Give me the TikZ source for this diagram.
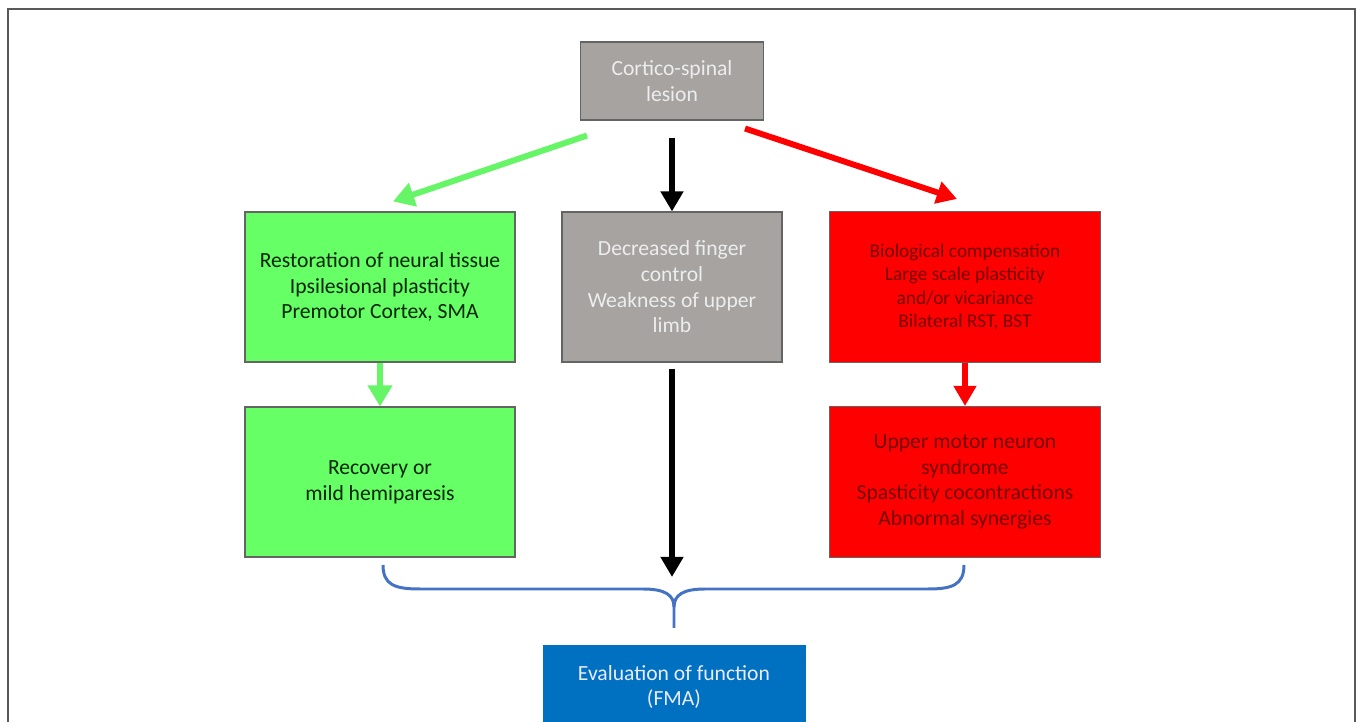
\documentclass[tikz,border=0pt]{standalone}
\usepackage{fontspec}
\setmainfont{Carlito}
\usetikzlibrary{arrows.meta,calc}

\definecolor{boxgrey}{RGB}{166,163,161}
\definecolor{boxgreen}{RGB}{102,255,102}
\definecolor{arrowgreen}{RGB}{102,245,102}
\definecolor{boxred}{RGB}{255,0,0}
\definecolor{boxblue}{RGB}{0,112,192}
\definecolor{bracecol}{RGB}{68,114,196}
\definecolor{edgegrey}{RGB}{100,100,100}

\tikzset{
  box/.style={draw=edgegrey, line width=0.6pt, align=center, inner sep=0pt,
    font=\fontsize{12.3}{14.6}\selectfont},
  greybox/.style={box, fill=boxgrey, text=white!93!black},
  greenbox/.style={box, fill=boxgreen, text=black!75!green!60!black},
  redbox/.style={box, fill=boxred, text=red!45!black},
  bluebox/.style={box, draw=none, fill=boxblue, text=blue!8!white},
  flow/.style={line width=3.4pt, -{Triangle[width=12.5pt,length=11.5pt]}},
  greenflow/.style={flow, draw=arrowgreen, -{Triangle[width=13.5pt,length=12pt,fill=arrowgreen]}},
  redflow/.style={flow, draw=boxred},
  blackflow/.style={flow, draw=black}
}

\begin{document}
\begin{tikzpicture}[x=0.02cm, y=-0.02cm]
\useasboundingbox (0,0) rectangle (1357,722);
\draw[draw=black!65, line width=0.9pt] (8,722) -- (8,9) -- (1355,9) -- (1355,722);

% boxes
\node[greybox, minimum width=183*0.02cm, minimum height=78*0.02cm] (lesion) at (672,81) {Cortico-spinal\\lesion};
\node[greenbox, minimum width=270*0.02cm, minimum height=150*0.02cm] (restore) at (380,287) {Restoration of neural tissue\\Ipsilesional plasticity\\Premotor Cortex, SMA};
\node[greybox, minimum width=220*0.02cm, minimum height=150*0.02cm] (finger) at (672,287) {Decreased finger\\control\\Weakness of upper\\limb};
\node[redbox, minimum width=271*0.02cm, minimum height=151*0.02cm, font=\fontsize{11}{13.4}\selectfont] (biocomp) at (965,287) {Biological compensation\\Large scale plasticity\\and/or vicariance\\Bilateral RST, BST};
\node[greenbox, minimum width=270*0.02cm, minimum height=150*0.02cm] (recovery) at (380,482) {Recovery or\\mild hemiparesis};
\node[redbox, minimum width=271*0.02cm, minimum height=151*0.02cm] (umn) at (965,482) {Upper motor neuron\\syndrome\\Spasticity cocontractions\\Abnormal synergies};
\node[bluebox, minimum width=263*0.02cm, minimum height=84*0.02cm] (fma) at (674,687) {Evaluation of function\\(FMA)};

% brace points
\coordinate (braceL) at (383,565);
\coordinate (braceR) at (964,565);
\coordinate (braceT) at (674,628);
\coordinate (evalin) at (672,577);

% arrows
\draw[greenflow] ($(lesion.south west)+(7,15)$) -- ($(restore.north)+(13,-10)$);
\draw[blackflow] ($(lesion.south)+(0,17)$) -- (finger.north);
\draw[redflow] ($(lesion.south east)+(-19,8)$) -- ($(biocomp.north)+(-8,-12)$);
\draw[greenflow] (restore.south) -- (recovery.north);
\draw[redflow] (biocomp.south) -- (umn.north);
\draw[blackflow] ($(finger.south)+(0,6)$) -- (evalin);

% brace
\draw[bracecol, line width=1.7pt, line join=round]
  (braceL) .. controls (383,585) and (395,589) .. (420,589) -- (643,589)
  .. controls (665,589) and (674,595) .. (674,607) -- (braceT);
\draw[bracecol, line width=1.7pt, line join=round]
  (braceR) .. controls (964,585) and (952,589) .. (928,589) -- (705,589)
  .. controls (683,589) and (674,595) .. (674,607);
\end{tikzpicture}
\end{document}
